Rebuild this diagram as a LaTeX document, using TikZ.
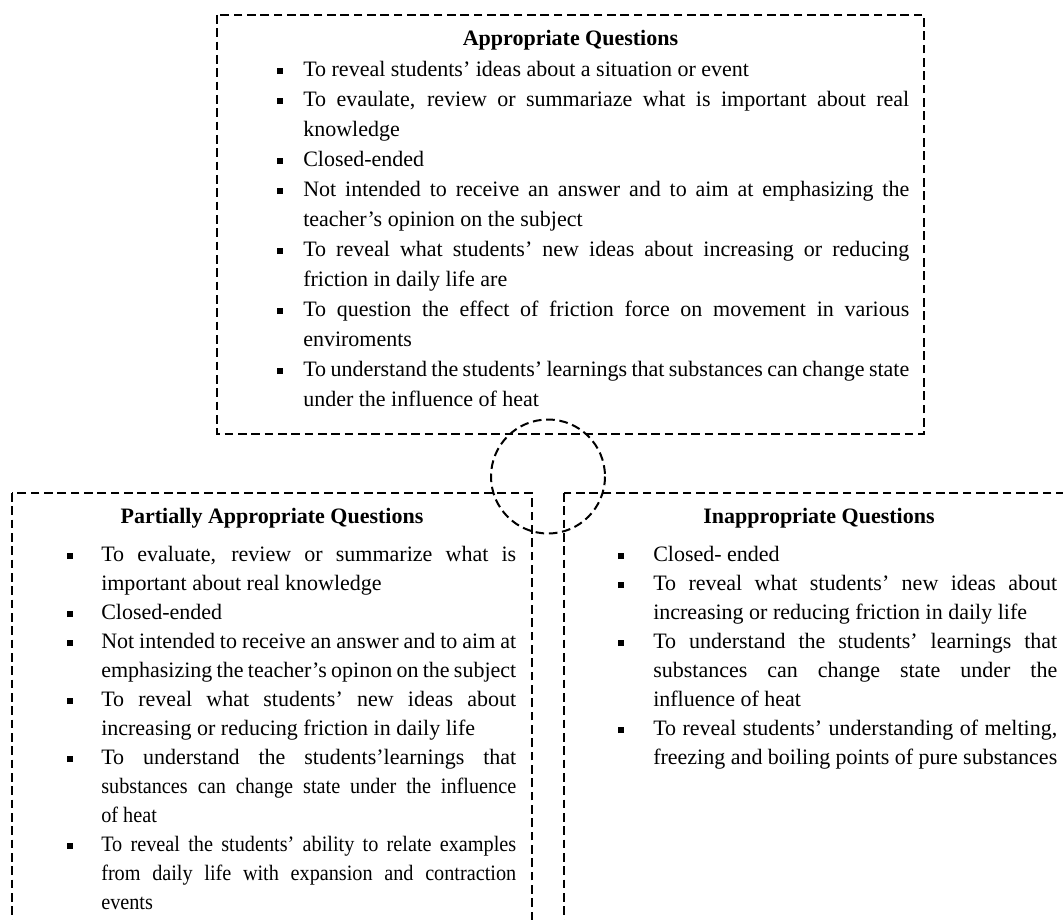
\documentclass[tikz,border=0pt]{standalone}
\usepackage{fontspec}
\setmainfont{Liberation Serif}
\newfontfamily\qnarrow[FakeStretch=0.92]{Liberation Serif}
\usepackage{enumitem}
\usepackage{tikz}
\newcommand\qfont{\fontsize{16.5pt}{21.75pt}\selectfont}
\newcommand\qtopfont{\fontsize{16.5pt}{22.5pt}\selectfont}
\newcommand\qbullet{\raisebox{1.6pt}{\rule{4.5pt}{4.5pt}}}
\tolerance=9000

\begin{document}
\begin{tikzpicture}[x=0.75pt, y=-0.75pt,
  qline/.style={line width=1.5pt, dash pattern=on 6.5pt off 3.5pt},
  qtitle/.style={anchor=base, inner sep=0pt, font=\qfont\bfseries},
  qlist/.style={anchor=north west, inner sep=0pt, align=justify, font=\qfont}]
\useasboundingbox (0,0) rectangle (1063,920);
\clip (0,0) rectangle (1063,920);
\draw[qline] (217,15) rectangle (924,434);
\draw[qline] (12,493) rectangle (532,960);
\draw[qline] (564,493) rectangle (1074,960);
\draw[qline] (548,476.5) circle (57);
\node[qtitle] (apprtitle) at (570.5,46) {Appropriate Questions};
\node[qtitle] (parttitle) at (272,523) {Partially Appropriate Questions};
\node[qtitle] (inapprtitle) at (819,523) {Inappropriate Questions};
\node[qlist, font=\qtopfont, text width=474pt] (apprlist) at (277,46) {%
\begin{itemize}[label=\qbullet, leftmargin=19.5pt, labelwidth=4.5pt, labelsep=15pt, align=left, topsep=0pt, partopsep=0pt, itemsep=0pt, parsep=0pt]
\item To reveal students’ ideas about a situation or event
\item To evaulate, review or summariaze what is important about real\linebreak knowledge
\item Closed-ended
\item Not intended to receive an answer and to aim at emphasizing the\linebreak teacher’s opinion on the subject
\item To reveal what students’ new ideas about increasing or reducing\linebreak friction in daily life are
\item To question the effect of friction force on movement in various\linebreak enviroments
\item To understand the students’ learnings that substances can change state\linebreak under the influence of heat
\end{itemize}};
\node[qlist, text width=336.75pt] (partlist) at (67,532) {%
\begin{itemize}[label=\qbullet, leftmargin=25.5pt, labelwidth=4.5pt, labelsep=21pt, align=left, topsep=0pt, partopsep=0pt, itemsep=0pt, parsep=0pt]
\item To evaluate, review or summarize what is\linebreak important about real knowledge
\item Closed-ended
\item Not intended to receive an answer and to aim at\linebreak emphasizing the teacher’s opinon on the subject
\item To reveal what students’ new ideas about\linebreak increasing or reducing friction in daily life
\item To understand the students’learnings that\linebreak {\qnarrow substances can change state under the influence\linebreak of heat}
\item {\qnarrow To reveal the students’ ability to relate examples\linebreak from daily life with expansion and contraction\linebreak events}
\end{itemize}};
\node[qlist, text width=329.25pt] (inapprlist) at (618,532) {%
\begin{itemize}[label=\qbullet, leftmargin=26.25pt, labelwidth=4.5pt, labelsep=21.75pt, align=left, topsep=0pt, partopsep=0pt, itemsep=0pt, parsep=0pt]
\item Closed- ended
\item To reveal what students’ new ideas about\linebreak increasing or reducing friction in daily life
\item To understand the students’ learnings that\linebreak substances can change state under the\linebreak influence of heat
\item To reveal students’ understanding of melting,\linebreak freezing and boiling points of pure substances
\end{itemize}};
\end{tikzpicture}
\end{document}
